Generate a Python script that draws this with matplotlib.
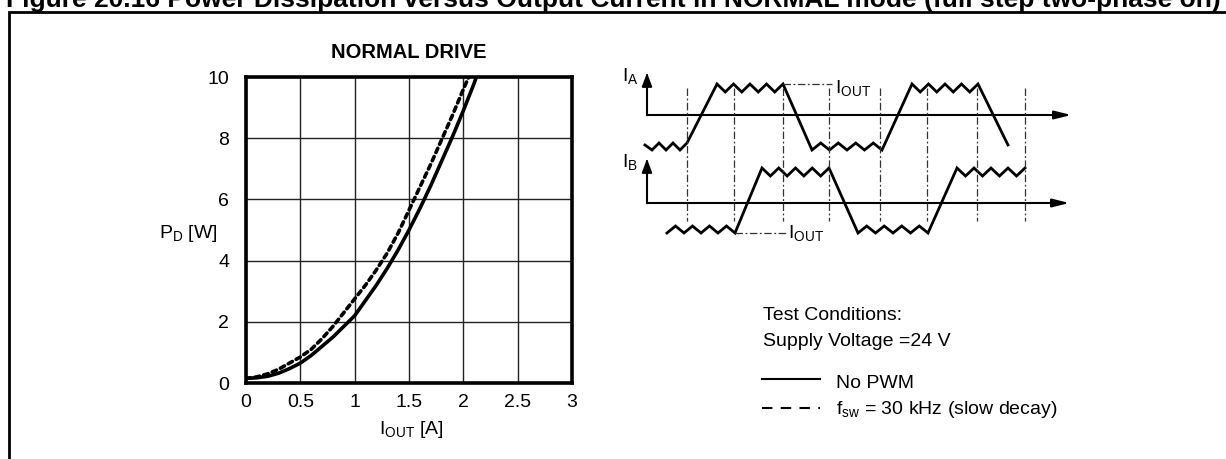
import numpy as np
import matplotlib
matplotlib.use("Agg")
import matplotlib.pyplot as plt

plt.rcParams['font.family'] = ['Liberation Sans', 'DejaVu Sans']
plt.rcParams['mathtext.fontset'] = 'custom'
plt.rcParams['mathtext.rm'] = 'Liberation Sans'

# ---- data ----
i_nopwm = [0, 0.1, 0.2, 0.3, 0.4, 0.5, 0.6, 0.7, 0.8, 0.9, 1.0, 1.1, 1.2, 1.3,
           1.4, 1.5, 1.6, 1.7, 1.8, 1.9, 2.0, 2.1, 2.12]
p_nopwm = [0.15, 0.17, 0.22, 0.32, 0.47, 0.65, 0.9, 1.2, 1.5, 1.85, 2.2, 2.7,
           3.2, 3.75, 4.35, 5.0, 5.7, 6.45, 7.25, 8.05, 8.9, 9.8, 10.0]
i_pwm = [0, 0.1, 0.2, 0.3, 0.4, 0.5, 0.6, 0.7, 0.8, 0.9, 1.0, 1.1, 1.2, 1.3,
         1.4, 1.5, 1.6, 1.7, 1.8, 1.9, 2.0, 2.05]
p_pwm = [0.15, 0.2, 0.3, 0.45, 0.65, 0.85, 1.1, 1.45, 1.85, 2.3, 2.75, 3.2,
         3.7, 4.25, 4.9, 5.65, 6.4, 7.15, 7.95, 8.75, 9.6, 10.0]
x_ticks = [0, 0.5, 1, 1.5, 2, 2.5, 3]
x_ticklabels = ['0', '0.5', '1', '1.5', '2', '2.5', '3']
y_ticks = [0, 2, 4, 6, 8, 10]
y_ticklabels = ['0', '2', '4', '6', '8', '10']

W, H = 1226, 459
fig = plt.figure(figsize=(W / 100, H / 100), dpi=100)
fig.patch.set_facecolor('white')

# ---- main plot ----
L, R, T, B = 246, 572, 77, 383
ax = fig.add_axes([L / W, (H - B) / H, (R - L) / W, (B - T) / H])
ax.set_xlim(0, 3)
ax.set_ylim(0, 10)
ax.set_xticks(x_ticks)
ax.set_xticklabels(x_ticklabels)
ax.set_yticks(y_ticks)
ax.set_yticklabels(y_ticklabels)
ax.tick_params(length=0, labelsize=14, pad=8)
ax.tick_params(axis='y', pad=12)
ax.grid(True, color='#222222', linewidth=1.0)
ax.set_axisbelow(True)
for s in ax.spines.values():
    s.set_linewidth(2.6)
    s.set_color('black')
ax.plot(i_nopwm, p_nopwm, color='black', lw=2.6, solid_capstyle='round', zorder=3)
ax.plot(i_pwm, p_pwm, color='black', lw=2.6, dashes=(1.3, 1.2),
        dash_capstyle='round', zorder=3)
ax.set_title('NORMAL DRIVE', fontsize=14.5, fontweight='bold', pad=14)

# ---- overlay in pixel coordinates ----
ov = fig.add_axes([0, 0, 1, 1])
ov.set_xlim(0, W)
ov.set_ylim(H, 0)
ov.set_axis_off()

# title (cut off at top, as in the reference) and frame
ov.text(613, 6.5, 'Figure 20.16 Power Dissipation versus Output Current in NORMAL mode (full step two-phase on)',
        ha='center', va='baseline', fontsize=19, fontweight='bold')
ov.plot([9, 9, W + 5], [H + 5, 12, 12], color='black', lw=2.0, solid_joinstyle='miter')

# axis labels of the plot
ov.text(218, 233, r'$\mathregular{P_D}$ [W]', ha='right', va='center', fontsize=14)
ov.text(411, 430, r'$\mathregular{I_{OUT}}$ [A]', ha='center', va='center', fontsize=14)

# ---- current waveform diagram ----
def zigzag(x0, x1, base, amp, n, start_peak=False):
    xs = np.linspace(x0, x1, 2 * n + 1)
    ys = [base + (amp if ((k % 2 == 1) ^ start_peak) else 0) for k in range(2 * n + 1)]
    return list(xs), ys

def wave(segments):
    xs, ys = [], []
    for sx, sy in segments:
        xs += sx
        ys += sy
    return xs, ys

wl = dict(color='black', lw=2.0, solid_joinstyle='miter')
al = dict(color='black', lw=1.5)

# I_A axes
ov.plot([647, 647], [115, 78], **al)
ov.annotate('', xy=(647, 70), xytext=(647, 80),
            arrowprops=dict(arrowstyle='-|>,head_length=0.8,head_width=0.3', color='black', lw=1.5))
ov.plot([647, 1062], [115, 115], **al)
ov.annotate('', xy=(1074, 115), xytext=(1060, 115),
            arrowprops=dict(arrowstyle='-|>,head_length=1.0,head_width=0.25', color='black', lw=1.5))
ov.text(622, 76, r'$\mathregular{I_A}$', ha='left', va='center', fontsize=14)

hiA, loA = 84, 150
s1 = zigzag(645, 687, loA, -7, 3, start_peak=True)
s2 = zigzag(717, 783, hiA, 8, 4)
s3 = zigzag(812, 882, loA, -7, 4)
s4 = zigzag(912, 978, hiA, 8, 4)
xa, ya = wave([s1, s2, s3, s4])
ya[0] = loA - 5
xa += [1008]
ya += [145]
ov.plot(xa, ya, **wl)

# I_B axes
ov.plot([647, 647], [203, 165], **al)
ov.annotate('', xy=(647, 156), xytext=(647, 166),
            arrowprops=dict(arrowstyle='-|>,head_length=0.8,head_width=0.3', color='black', lw=1.5))
ov.plot([647, 1060], [203, 203], **al)
ov.annotate('', xy=(1072, 203), xytext=(1058, 203),
            arrowprops=dict(arrowstyle='-|>,head_length=1.0,head_width=0.25', color='black', lw=1.5))
ov.text(622, 162, r'$\mathregular{I_B}$', ha='left', va='center', fontsize=14)

hiB, loB = 168, 233
b1 = zigzag(667, 735, loB, -7, 4)
b2 = zigzag(762, 829, hiB, 8, 4)
b3 = zigzag(858, 928, loB, -7, 4)
b4 = zigzag(957, 1025, hiB, 8, 4)
xb, yb = wave([b1, b2, b3, b4])
ov.plot(xb, yb, **wl)

# dash-dot timing lines
dd = dict(color='#333333', lw=0.9, linestyle=(0, (6, 2, 1.5, 2)))
for xv in [687, 734, 783, 829, 880, 927, 977, 1025]:
    ov.plot([xv, xv], [88, 221], **dd)
ov.plot([783, 832], [84, 84], **dd)
ov.plot([735, 787], [233, 233], **dd)
ov.text(835, 88, r'$\mathregular{I_{OUT}}$', ha='left', va='center', fontsize=14)
ov.text(788, 233, r'$\mathregular{I_{OUT}}$', ha='left', va='center', fontsize=14)

# test conditions / legend
ov.text(763, 315, 'Test Conditions:', ha='left', va='center', fontsize=14)
ov.text(763, 342, 'Supply Voltage =24 V', ha='left', va='center', fontsize=14)
ov.plot([762, 820], [379, 379], color='black', lw=1.5)
ov.plot([762, 820], [408, 408], color='black', lw=1.5, linestyle=(0, (5, 4)))
ov.text(836, 384, 'No PWM', ha='left', va='center', fontsize=14)
ov.text(836, 410, r'$\mathregular{f_{sw}}$ = 30 kHz (slow decay)', ha='left', va='center', fontsize=14)

fig.savefig('out.png', dpi=100)
